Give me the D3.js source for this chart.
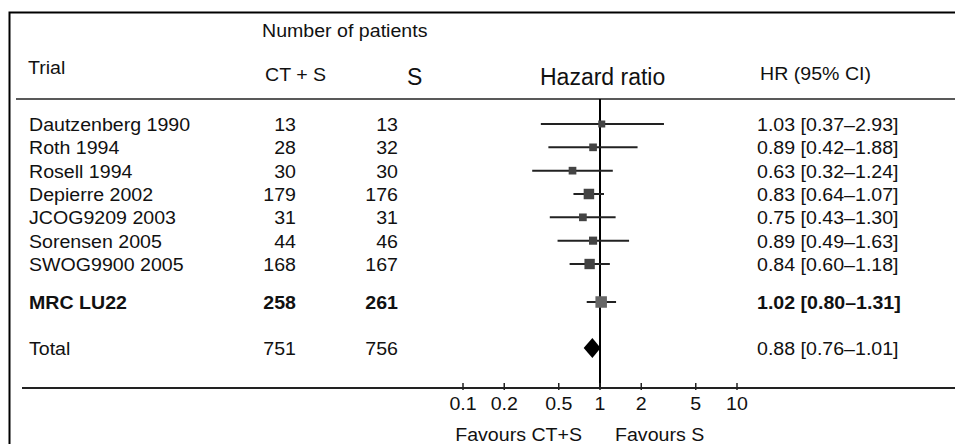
<!DOCTYPE html>
<html>
<head>
<meta charset="utf-8">
<script src="https://cdn.jsdelivr.net/npm/d3@7/dist/d3.min.js"></script>
<style>
    body { margin: 0; background: #fff; }
    text { font-family: "Liberation Sans", Arial, sans-serif; fill: #111; }
</style>
</head>
<body>
<div id="chart"></div>
<script>
// trials (forest plot rows)
const trials = ["Dautzenberg 1990", "Roth 1994", "Rosell 1994", "Depierre 2002",
    "JCOG9209 2003", "Sorensen 2005", "SWOG9900 2005"];
const nCTS = [13, 28, 30, 179, 31, 44, 168];
const nS = [13, 32, 30, 176, 31, 46, 167];
const hr = [1.03, 0.89, 0.63, 0.83, 0.75, 0.89, 0.84];
const lo = [0.37, 0.42, 0.32, 0.64, 0.43, 0.49, 0.60];
const hi = [2.93, 1.88, 1.24, 1.07, 1.30, 1.63, 1.18];

// the MRC LU22 trial itself
const mrc = {name: "MRC LU22", nCTS: 258, nS: 261, hr: 1.02, lo: 0.80, hi: 1.31};
// pooled estimate
const total = {name: "Total", nCTS: 751, nS: 756, hr: 0.88, lo: 0.76, hi: 1.01};

const ticks = [0.1, 0.2, 0.5, 1, 2, 5, 10];

const [svgW, svgH] = [955, 444];
const STRETCH = 1.12;   // the text in the figure is a little wide
const FONT = 17.5;

const fmt = d3.format(".2f");
const ciLabel = d => fmt(d.hr) + " [" + fmt(d.lo) + "\u2013" + fmt(d.hi) + "]";

const rows = trials.map((t, i) => ({name: t, nCTS: nCTS[i], nS: nS[i], hr: hr[i], lo: lo[i], hi: hi[i]}));

const x = d3.scaleLog().domain([0.1, 10]).range([463, 737]);
const yRow = d3.scaleLinear().domain([0, trials.length - 1]).range([124, 264]);
const Y_MRC = 302, Y_TOTAL = 348;
const AXIS_Y = 388, HEAD_Y = 99;

const size = d3.scaleLinear()
    .domain(d3.extent(rows.concat([mrc]), d => Math.sqrt(d.nCTS + d.nS)))
    .range([7, 11.5]);

const svg = d3.select("#chart").append("svg").attr("width", svgW).attr("height", svgH);

function label(g, str, px, py, opts) {
    opts = opts || {};
    const sx = opts.stretch === undefined ? STRETCH : opts.stretch;
    return g.append("text")
        .attr("transform", "translate(" + px + "," + py + ") scale(" + sx + ",1)")
        .attr("text-anchor", opts.anchor || "start")
        .style("font-size", (opts.size || FONT) + "px")
        .style("font-weight", opts.bold ? "bold" : null)
        .text(str);
}

// frame
svg.append("path").attr("d", "M9.5," + svgH + "V12.5H" + svgW)
    .attr("fill", "none").attr("stroke", "#000").attr("stroke-width", 2);

// header
const head = svg.append("g");
label(head, "Number of patients", 262, 37);
label(head, "Trial", 28, 74);
label(head, "CT + S", 265, 81);
label(head, "S", 407, 85, {size: 23, stretch: 1});
label(head, "Hazard ratio", 540, 85, {size: 23, stretch: 1});
label(head, "HR (95% CI)", 760, 80);

svg.append("line").attr("x1", 16).attr("x2", svgW).attr("y1", HEAD_Y).attr("y2", HEAD_Y)
    .attr("stroke", "#222").attr("stroke-width", 1.5);

// line of no effect
svg.append("line").attr("x1", x(1)).attr("x2", x(1)).attr("y1", HEAD_Y).attr("y2", AXIS_Y)
    .attr("stroke", "#000").attr("stroke-width", 2);

function drawRow(d, cy, bold, fill) {
    const g = svg.append("g");
    label(g, d.name, 29, cy + 7, {bold: bold});
    label(g, d.nCTS, 296, cy + 7, {bold: bold, anchor: "end"});
    label(g, d.nS, 398, cy + 7, {bold: bold, anchor: "end"});
    label(g, ciLabel(d), 757, cy + 7, {bold: bold});

    g.append("line").attr("x1", x(d.lo)).attr("x2", x(d.hi)).attr("y1", cy).attr("y2", cy)
        .attr("stroke", "#222").attr("stroke-width", 2);
    const s = size(Math.sqrt(d.nCTS + d.nS));
    g.append("rect").attr("x", x(d.hr) - s / 2).attr("y", cy - s / 2)
        .attr("width", s).attr("height", s).attr("fill", fill);
}

rows.forEach((d, i) => drawRow(d, yRow(i), false, "#444"));
drawRow(mrc, Y_MRC, true, "#666");

// total with diamond
const gt = svg.append("g");
label(gt, total.name, 29, Y_TOTAL + 7);
label(gt, total.nCTS, 296, Y_TOTAL + 7, {anchor: "end"});
label(gt, total.nS, 398, Y_TOTAL + 7, {anchor: "end"});
label(gt, ciLabel(total), 757, Y_TOTAL + 7);
gt.append("path")
    .attr("d", "M" + x(total.lo) + "," + Y_TOTAL + "L" + x(total.hr) + "," + (Y_TOTAL - 10) +
        "L" + x(total.hi) + "," + Y_TOTAL + "L" + x(total.hr) + "," + (Y_TOTAL + 10) + "Z")
    .attr("fill", "#000");

// axis
svg.append("line").attr("x1", 22).attr("x2", svgW).attr("y1", AXIS_Y).attr("y2", AXIS_Y)
    .attr("stroke", "#222").attr("stroke-width", 2);

const axis = svg.append("g");
axis.selectAll("line").data(ticks).enter().append("line")
    .attr("x1", d => x(d)).attr("x2", d => x(d))
    .attr("y1", AXIS_Y - 5).attr("y2", AXIS_Y + 2)
    .attr("stroke", "#222").attr("stroke-width", 1.5);
ticks.forEach(t => label(axis, String(t), x(t), 410, {anchor: "middle"}));

label(axis, "Favours CT+S", 582, 441, {anchor: "end"});
label(axis, "Favours S", 615, 441);
</script>
</body>
</html>
